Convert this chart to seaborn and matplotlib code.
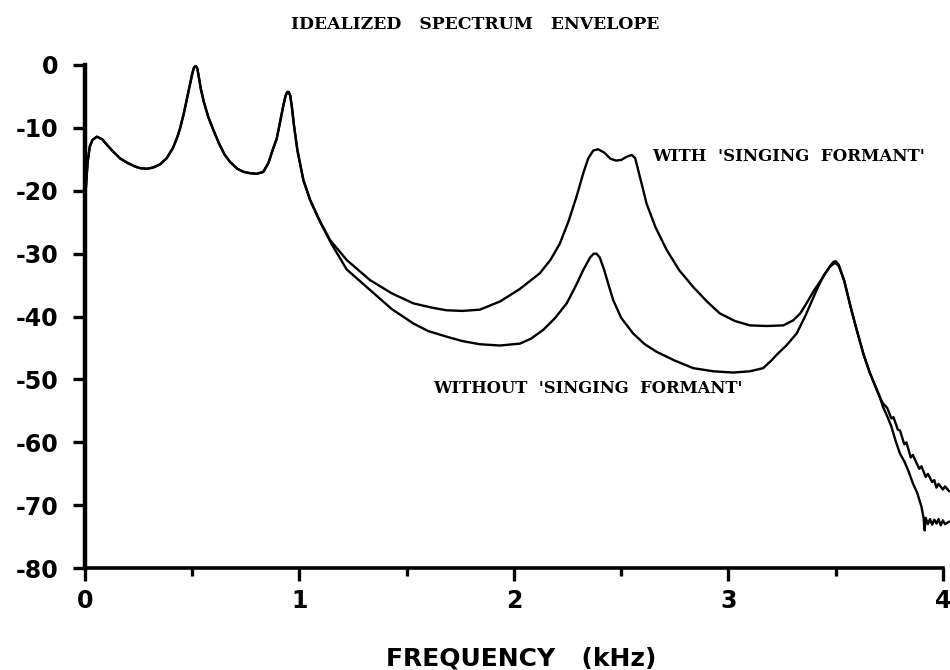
import numpy as np
import pandas as pd
import seaborn as sns
import matplotlib.pyplot as plt
from matplotlib.ticker import MultipleLocator

# ---- data ----
low_freq = [0.000, 0.005, 0.012, 0.022, 0.035, 0.055, 0.080, 0.105, 0.132, 0.165,
            0.200, 0.230, 0.256, 0.290, 0.318, 0.350, 0.381, 0.410, 0.430, 0.443,
            0.460, 0.475, 0.490, 0.500, 0.507, 0.513, 0.518, 0.524, 0.530, 0.540,
            0.555, 0.575, 0.598, 0.625, 0.650, 0.676, 0.710, 0.740, 0.769, 0.800,
            0.831, 0.855, 0.875, 0.894, 0.910, 0.925, 0.935, 0.943, 0.950, 0.957,
            0.965, 0.975, 0.990, 1.018, 1.050]
low_db = [-21.5, -19.0, -15.5, -13.0, -11.9, -11.4, -11.8, -12.8, -13.8, -14.9,
          -15.6, -16.1, -16.4, -16.5, -16.3, -15.8, -14.8, -13.2, -11.5, -10.1,
          -7.8, -5.4, -3.0, -1.4, -0.5, -0.2, -0.2, -0.6, -1.8, -3.8,
          -6.0, -8.3, -10.3, -12.5, -14.2, -15.4, -16.5, -17.0, -17.2, -17.3,
          -17.0, -15.6, -13.5, -11.7, -9.0, -6.4, -4.9, -4.3, -4.3, -4.9,
          -6.8, -9.8, -13.5, -18.3, -21.5]

with_freq = [1.09, 1.142, 1.22, 1.329, 1.43, 1.531, 1.62, 1.686, 1.76, 1.841,
             1.935, 2.028, 2.121, 2.17, 2.214, 2.255, 2.292, 2.325, 2.347, 2.37,
             2.392, 2.42, 2.45, 2.475, 2.50, 2.525, 2.549, 2.565, 2.58, 2.60,
             2.618, 2.66, 2.712, 2.77, 2.836, 2.90, 2.96, 3.03, 3.10, 3.18,
             3.256, 3.302, 3.335, 3.364, 3.40, 3.442, 3.475, 3.490, 3.500, 3.515]
with_db = [-24.5, -27.8, -31.0, -34.2, -36.3, -37.9, -38.6, -39.0, -39.1, -38.9,
           -37.6, -35.6, -33.1, -31.0, -28.4, -24.8, -20.9, -17.0, -14.8, -13.6,
           -13.4, -13.9, -14.9, -15.2, -15.1, -14.6, -14.3, -14.8, -16.8, -19.5,
           -22.0, -25.8, -29.4, -32.6, -35.3, -37.6, -39.5, -40.7, -41.4, -41.5,
           -41.4, -40.6, -39.5, -37.9, -35.8, -33.7, -31.9, -31.3, -31.2, -31.8]

without_freq = [1.10, 1.15, 1.22, 1.33, 1.43, 1.531, 1.60, 1.686, 1.76, 1.841,
                1.935, 2.028, 2.08, 2.137, 2.19, 2.246, 2.29, 2.323, 2.355, 2.372,
                2.385, 2.40, 2.42, 2.445, 2.463, 2.50, 2.556, 2.61, 2.665, 2.75,
                2.836, 2.93, 3.022, 3.10, 3.162, 3.20, 3.224, 3.27, 3.318, 3.36,
                3.411, 3.445, 3.473, 3.490, 3.500, 3.515]
without_db = [-25.2, -28.5, -32.5, -35.8, -38.8, -41.1, -42.3, -43.2, -43.9, -44.4,
              -44.6, -44.3, -43.5, -42.1, -40.3, -37.9, -35.0, -32.6, -30.6, -30.0,
              -30.0, -30.6, -32.5, -35.4, -37.4, -40.2, -42.7, -44.4, -45.6, -47.0,
              -48.2, -48.7, -48.9, -48.7, -48.2, -47.0, -46.1, -44.6, -42.7, -39.8,
              -35.8, -33.4, -32.1, -31.6, -31.5, -32.0]

fall_freq = [3.54, 3.57, 3.598, 3.63, 3.66, 3.706]
fall_db = [-34.3, -38.5, -42.1, -46.0, -49.0, -52.8]

with_tail_freq = [3.72, 3.74, 3.76, 3.77, 3.79, 3.80, 3.82, 3.83, 3.85, 3.86, 3.88,
                  3.89, 3.90, 3.92, 3.93, 3.95, 3.96, 3.97, 3.98, 4.00, 4.01, 4.03]
with_tail_db = [-53.8, -54.5, -56.2, -56.0, -58.0, -58.1, -60.3, -60.0, -62.4, -62.0,
                -63.5, -64.2, -63.8, -65.5, -65.0, -66.3, -66.0, -67.2, -66.6, -67.5,
                -67.0, -67.8]
without_tail_freq = [3.72, 3.74, 3.76, 3.78, 3.80, 3.82, 3.84, 3.86, 3.88, 3.90, 3.91,
                     3.915, 3.92, 3.93, 3.94, 3.95, 3.96, 3.97, 3.98, 3.99, 4.00,
                     4.01, 4.03]
without_tail_db = [-54.3, -55.8, -57.5, -59.8, -61.8, -63.0, -64.6, -66.5, -68.0, -70.2,
                   -72.0, -74.0, -72.0, -73.0, -72.2, -73.1, -72.3, -72.9, -72.2, -73.2,
                   -72.4, -73.0, -72.6]

x_ticks = [0, 1, 2, 3, 4]
y_ticks = [0, -10, -20, -30, -40, -50, -60, -70, -80]

title = "IDEALIZED   SPECTRUM   ENVELOPE"
label_with = "WITH  'SINGING  FORMANT'"
label_without = "WITHOUT  'SINGING  FORMANT'"
x_label = "FREQUENCY   (kHz)"

# ---- frames ----
df_with = pd.DataFrame({
    "freq": low_freq + with_freq + fall_freq + with_tail_freq,
    "db": low_db + with_db + fall_db + with_tail_db,
})
df_with["curve"] = "with"
df_without = pd.DataFrame({
    "freq": low_freq + without_freq + fall_freq + without_tail_freq,
    "db": low_db + without_db + fall_db + without_tail_db,
})
df_without["curve"] = "without"
df = pd.concat([df_with, df_without], ignore_index=True)

# ---- plot ----
sns.set_style("ticks")
plt.rcParams["font.family"] = ["DejaVu Sans"]
plt.rcParams["text.color"] = "black"
plt.rcParams["xtick.color"] = "black"
plt.rcParams["ytick.color"] = "black"
plt.rcParams["axes.labelcolor"] = "black"
plt.rcParams["axes.edgecolor"] = "black"

fig = plt.figure(figsize=(9.5, 6.7), dpi=100)
ax = fig.add_axes([0.0895, 0.152, 0.903, 0.751])

sns.lineplot(data=df, x="freq", y="db", units="curve", estimator=None,
             sort=False, color="black", linewidth=1.7, ax=ax, legend=False)
for ln in ax.lines:
    ln.set_clip_on(False)
    ln.set_solid_joinstyle("round")

ax.set_xlim(0, 4)
ax.set_ylim(-80, 0)
ax.set_xticks(x_ticks)
ax.set_xticklabels([str(v) for v in x_ticks])
ax.set_yticks(y_ticks)
ax.set_yticklabels([str(v) for v in y_ticks])
ax.xaxis.set_minor_locator(MultipleLocator(0.5))

for s in ["top", "right"]:
    ax.spines[s].set_visible(False)
ax.spines["left"].set_linewidth(3.2)
ax.spines["bottom"].set_linewidth(2.6)

ax.tick_params(axis="y", which="major", direction="out", length=9, width=2.4,
               pad=10, labelsize=17, colors="black")
ax.tick_params(axis="x", which="major", direction="out", length=9, width=2.4,
               pad=6, labelsize=17, colors="black")
ax.tick_params(axis="x", which="minor", direction="out", length=6, width=2.4,
               colors="black")
for lab in ax.get_xticklabels() + ax.get_yticklabels():
    lab.set_fontweight("bold")

ax.set_xlabel(x_label, fontsize=18, fontweight="bold", labelpad=22,
              color="black")
ax.xaxis.set_label_coords(0.508, -0.155)
ax.set_ylabel("")

serif = ["DejaVu Serif"]
ax.text(2.643, -14.5, label_with, family=serif, fontweight="bold",
        fontsize=12, ha="left", va="center", color="black")
ax.text(1.622, -51.5, label_without, family=serif, fontweight="bold",
        fontsize=11.8, ha="left", va="center", color="black")
fig.text(0.5, 0.963, title, family=serif, fontweight="bold", fontsize=12.4,
         ha="center", va="center", color="black")

fig.savefig("out.png", dpi=100, facecolor="white")
